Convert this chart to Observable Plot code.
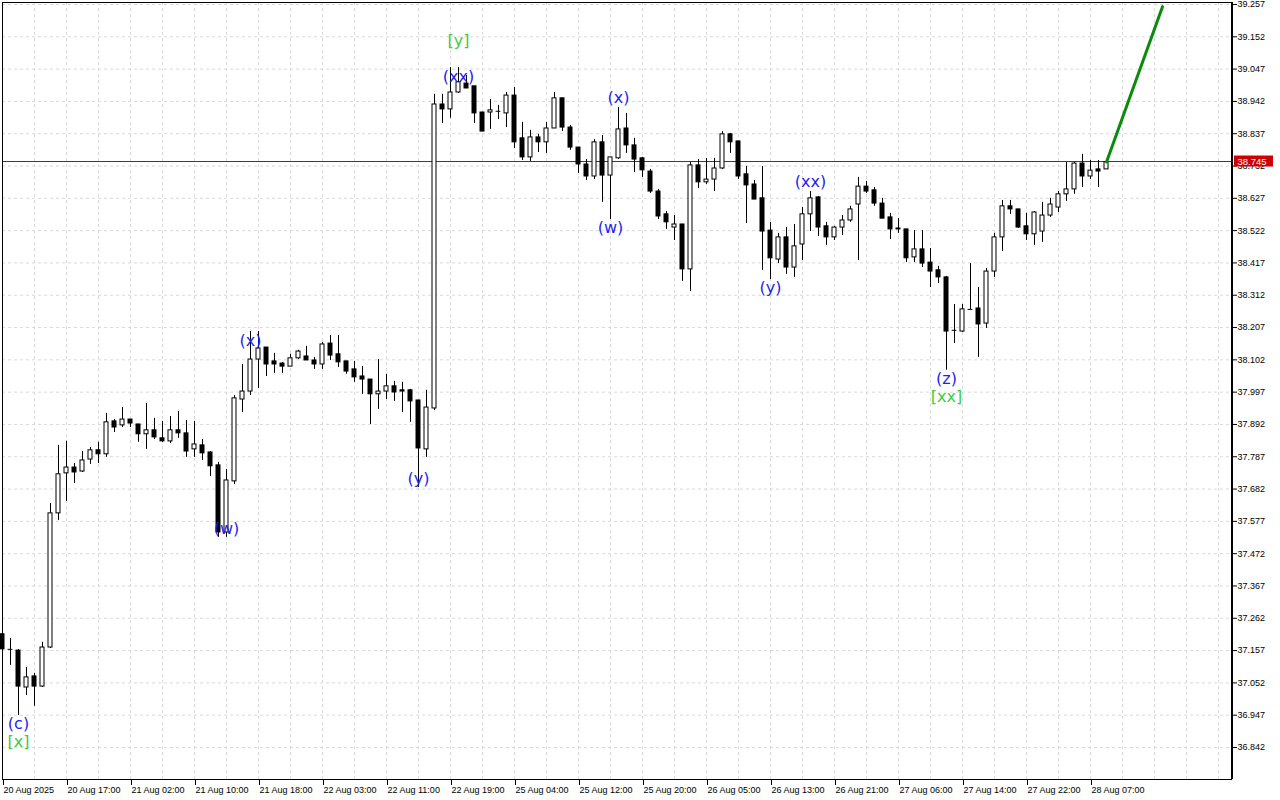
<!DOCTYPE html>
<html>
<head>
<meta charset="utf-8">
<script src="https://cdn.jsdelivr.net/npm/d3@7"></script>
<script src="https://cdn.jsdelivr.net/npm/@observablehq/plot@0.6"></script>
<style>
  html, body { margin: 0; padding: 0; background: #ffffff; }
  #chart svg { display: block; }
</style>
</head>
<body>
<div id="chart"></div>
<script>
// ---- Candle data (hourly bars) ----
const opens = [37.210,37.161,37.157,37.037,37.073,37.040,37.167,37.603,37.733,37.752,
37.739,37.778,37.808,37.795,37.902,37.889,37.908,37.892,37.860,37.873,
37.847,37.837,37.873,37.863,37.811,37.824,37.801,37.759,37.541,37.707,
37.973,37.999,38.103,38.142,38.097,38.090,38.080,38.107,38.113,38.100,
38.087,38.155,38.120,38.097,38.071,38.048,38.038,37.990,37.999,38.016,
38.003,38.003,37.970,37.811,37.944,38.932,38.916,38.971,39.000,38.991,
38.906,38.906,38.910,38.903,38.961,38.822,38.760,38.825,38.809,38.854,
38.952,38.857,38.792,38.737,38.698,38.809,38.701,38.757,38.854,38.799,
38.757,38.714,38.649,38.575,38.532,38.542,38.396,38.734,38.679,38.688,
38.724,38.835,38.812,38.705,38.672,38.627,38.522,38.428,38.500,38.402,
38.477,38.575,38.630,38.536,38.500,38.532,38.555,38.607,38.665,38.653,
38.610,38.565,38.529,38.526,38.435,38.461,38.418,38.393,38.370,38.198,
38.194,38.266,38.269,38.220,38.389,38.500,38.601,38.591,38.536,38.510,
38.519,38.571,38.597,38.640,38.656,38.740,38.698,38.721,38.721];
const highs = [37.216,37.196,37.160,37.102,37.083,37.184,37.635,37.824,37.837,37.765,
37.804,37.817,37.834,37.928,37.908,37.947,37.908,37.892,37.960,37.912,
37.902,37.918,37.934,37.905,37.902,37.843,37.804,37.769,37.746,37.986,
38.087,38.194,38.194,38.142,38.123,38.093,38.120,38.133,38.146,38.110,
38.159,38.181,38.181,38.097,38.097,38.080,38.038,38.103,38.055,38.032,
38.029,38.006,37.970,38.003,38.965,38.965,39.052,39.052,39.026,38.991,
38.906,38.948,38.929,38.971,38.987,38.874,38.848,38.835,38.874,38.971,
38.952,38.864,38.792,38.753,38.818,38.831,38.760,38.922,38.903,38.822,
38.760,38.721,38.656,38.584,38.571,38.542,38.744,38.753,38.757,38.757,
38.844,38.838,38.812,38.731,38.685,38.731,38.549,38.513,38.532,38.542,
38.597,38.649,38.633,38.549,38.536,38.571,38.601,38.695,38.682,38.662,
38.627,38.578,38.561,38.526,38.522,38.522,38.464,38.406,38.373,38.282,
38.282,38.415,38.337,38.399,38.513,38.620,38.620,38.591,38.578,38.584,
38.614,38.627,38.649,38.744,38.744,38.770,38.750,38.750,38.750];
const lows = [37.158,37.109,36.946,37.011,36.976,37.037,37.164,37.580,37.642,37.700,
37.736,37.762,37.765,37.785,37.866,37.882,37.882,37.834,37.811,37.843,
37.834,37.830,37.847,37.785,37.785,37.775,37.723,37.525,37.525,37.697,
37.931,37.986,38.009,38.048,38.058,38.058,38.080,38.103,38.100,38.071,
38.071,38.100,38.077,38.055,38.029,37.990,37.892,37.941,37.973,37.967,
37.931,37.899,37.687,37.785,37.937,38.870,38.887,38.968,38.984,38.870,
38.844,38.851,38.883,38.857,38.789,38.750,38.747,38.776,38.773,38.854,
38.844,38.783,38.708,38.685,38.688,38.614,38.558,38.753,38.773,38.711,
38.695,38.643,38.558,38.526,38.490,38.357,38.324,38.659,38.672,38.649,
38.721,38.773,38.688,38.545,38.623,38.393,38.363,38.415,38.380,38.370,
38.425,38.519,38.503,38.474,38.490,38.506,38.549,38.425,38.643,38.601,
38.561,38.493,38.513,38.418,38.418,38.402,38.337,38.350,38.068,38.155,
38.191,38.266,38.110,38.204,38.370,38.454,38.575,38.529,38.490,38.474,
38.484,38.565,38.581,38.617,38.640,38.662,38.688,38.662,38.721];
const closes = [37.161,37.161,37.040,37.070,37.040,37.167,37.603,37.730,37.752,37.736,
37.775,37.808,37.795,37.899,37.882,37.908,37.895,37.860,37.873,37.850,
37.837,37.873,37.863,37.804,37.827,37.798,37.756,37.541,37.710,37.977,
37.999,38.103,38.139,38.087,38.087,38.080,38.107,38.129,38.100,38.087,
38.152,38.116,38.094,38.064,38.045,38.038,37.990,37.999,38.016,37.996,
37.999,37.967,37.814,37.947,38.932,38.916,38.971,39.004,38.984,38.903,
38.844,38.913,38.910,38.961,38.809,38.760,38.825,38.809,38.854,38.952,
38.857,38.792,38.737,38.698,38.809,38.701,38.760,38.851,38.799,38.753,
38.718,38.649,38.568,38.549,38.542,38.396,38.734,38.679,38.688,38.724,
38.835,38.809,38.698,38.669,38.623,38.519,38.432,38.500,38.402,38.471,
38.575,38.627,38.532,38.500,38.532,38.555,38.591,38.665,38.649,38.610,
38.561,38.526,38.526,38.432,38.461,38.415,38.389,38.370,38.194,38.198,
38.266,38.266,38.217,38.389,38.500,38.601,38.591,38.532,38.510,38.581,
38.571,38.607,38.640,38.656,38.740,38.698,38.717,38.714,38.745];

// ---- Axis ticks ----
const priceTicks = [39.257,39.152,39.047,38.942,38.837,38.732,38.627,38.522,38.417,38.312,
38.207,38.102,37.997,37.892,37.787,37.682,37.577,37.472,37.367,37.262,37.157,37.052,36.947,36.842];
const timeTickBars = [0,8,16,24,32,40,48,56,64,72,80,88,96,104,112,120,128,136];
const timeTickLabels = ["20 Aug 2025","20 Aug 17:00","21 Aug 02:00","21 Aug 10:00","21 Aug 18:00",
"22 Aug 03:00","22 Aug 11:00","22 Aug 19:00","25 Aug 04:00","25 Aug 12:00","25 Aug 20:00",
"26 Aug 05:00","26 Aug 13:00","26 Aug 21:00","27 Aug 06:00","27 Aug 14:00","27 Aug 22:00","28 Aug 07:00"];
const gridBars = [4,8,12,16,20,24,28,32,36,40,44,48,52,56,60,64,68,72,76,80,84,88,92,96,100,
104,108,112,116,120,124,128,132,136,140,144,148,152];

// ---- Wave labels ----
const waveText  = ["(c)","[x]","(w)","(x)","(y)","[y]","(xx)","(x)","(w)","(y)","(xx)","(z)","[xx]"];
const waveBar   = [2, 2, 28, 31, 52, 57, 57, 77, 76, 96, 101, 118, 118];
const wavePrice = [36.920,36.859,37.551,38.165,37.716,39.140,39.023,38.952,38.532,38.337,38.679,38.041,37.983];
const waveKind  = ["minor","major","minor","minor","minor","major","minor","minor","minor","minor","minor","minor","major"];

// ---- Forecast line ----
const forecastBar = [138, 145];
const forecastPrice = [38.745, 39.250];

const lastPrice = closes[closes.length - 1];

// ---- Build tables ----
const bars = opens.map((o, i) => ({i, o, h: highs[i], l: lows[i], c: closes[i]}));
const bodies = bars.filter(d => Math.abs(d.o - d.c) >= 0.002);
const dojis = bars.filter(d => Math.abs(d.o - d.c) < 0.002);
const waves = waveText.map((t, k) => ({t, bar: waveBar[k], price: wavePrice[k], kind: waveKind[k]}));
const forecast = forecastBar.map((b, k) => ({bar: b, price: forecastPrice[k]}));
const timeLabel = new Map(timeTickBars.map((b, k) => [b, timeTickLabels[k]]));

const xMax = 153.625;
const font = "Liberation Sans, Arial, sans-serif";

const chart = Plot.plot({
  width: 1280,
  height: 800,
  marginLeft: 2,
  marginTop: 2,
  marginRight: 49,
  marginBottom: 21,
  x: {domain: [0, xMax]},
  y: {domain: [36.738, 39.2635]},
  style: {fontFamily: font, fontSize: "9px", background: "#ffffff", color: "#000000"},
  marks: [
    Plot.gridX(gridBars, {stroke: "#d9d9d9", strokeOpacity: 1, strokeDasharray: "3,3"}),
    Plot.gridY(priceTicks, {stroke: "#d9d9d9", strokeOpacity: 1, strokeDasharray: "3,3"}),
    Plot.ruleY([lastPrice], {stroke: "#c00000", strokeWidth: 1, dy: -0.5}),
    Plot.ruleX(bars, {x: "i", y1: "l", y2: "h", stroke: "#000000", strokeWidth: 1}),
    Plot.rect(bodies, {
      x1: d => d.i - 0.25, x2: d => d.i + 0.25,
      y1: "o", y2: "c",
      fill: d => d.c >= d.o ? "#ffffff" : "#000000",
      stroke: "#000000", strokeWidth: 1
    }),
    Plot.ruleY(dojis, {y: "c", x1: d => d.i - 0.3, x2: d => d.i + 0.3, stroke: "#000000"}),
    Plot.line(forecast, {x: "bar", y: "price", stroke: "#0b8a0b", strokeWidth: 3}),
    Plot.text(waves, {
      x: "bar", y: "price", text: "t",
      fill: d => d.kind === "major" ? "#3dcc3d" : "#1e1ef0",
      fontSize: 16, fontFamily: "DejaVu Sans, sans-serif",
      textAnchor: "middle", lineAnchor: "middle"
    }),
    Plot.frame({stroke: "#000000", strokeWidth: 1}),
    Plot.ruleX([xMax], {stroke: "#000000", strokeWidth: 2, dx: 0.5}),
    Plot.axisY(priceTicks, {
      anchor: "right", label: null, tickSize: 5, tickPadding: 1,
      tickFormat: d => d.toFixed(3), fontSize: 9, stroke: "#000000", fill: "#000000"
    }),
    Plot.axisX(timeTickBars, {
      anchor: "bottom", label: null, tickSize: 6, tickPadding: 1,
      tickFormat: d => timeLabel.get(d), textAnchor: "start", dx: 1,
      fontSize: 9, stroke: "#000000", fill: "#000000"
    }),
    Plot.rect([lastPrice], {
      x1: xMax, x2: xMax, y1: d => d, y2: d => d,
      insetLeft: 3, insetRight: -42, insetTop: -6, insetBottom: -5,
      fill: "#cc0000"
    }),
    Plot.text([lastPrice], {
      x: xMax, y: d => d, text: d => d.toFixed(3), dx: 6, dy: -0.5,
      textAnchor: "start", lineAnchor: "middle", fill: "#ffffff", fontSize: 9.5
    })
  ]
});

document.getElementById("chart").appendChild(chart);
</script>
</body>
</html>
